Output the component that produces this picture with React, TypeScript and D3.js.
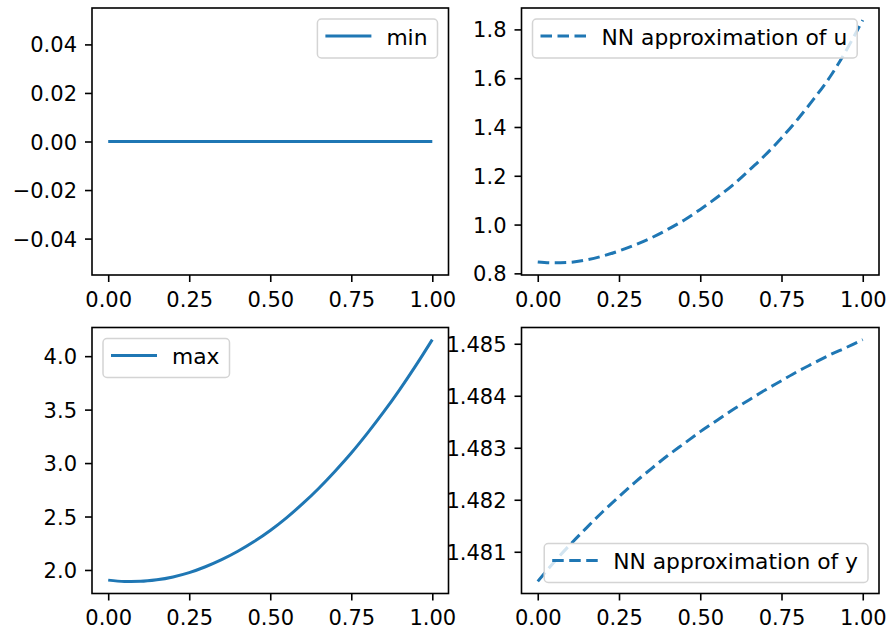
import React, { useEffect, useRef } from "react";
import * as d3 from "d3";

// sample points along x
const xValues = [0, 0.05, 0.1, 0.15, 0.2, 0.25, 0.3, 0.35, 0.4, 0.45, 0.5, 0.55, 0.6, 0.65, 0.7, 0.75, 0.8, 0.85, 0.9, 0.95, 1.0];

const minValues = [0, 0, 0, 0, 0, 0, 0, 0, 0, 0, 0, 0, 0, 0, 0, 0, 0, 0, 0, 0, 0];
const uValues = [0.847, 0.843, 0.845, 0.855, 0.871, 0.892, 0.917, 0.946, 0.98, 1.018, 1.062, 1.11, 1.162, 1.222, 1.285, 1.355, 1.432, 1.516, 1.607, 1.716, 1.838];
const maxValues = [1.905, 1.893, 1.894, 1.908, 1.935, 1.975, 2.03, 2.096, 2.175, 2.266, 2.37, 2.488, 2.62, 2.765, 2.924, 3.094, 3.28, 3.478, 3.69, 3.916, 4.155];
const yValues = [1.48043, 1.4808, 1.48114, 1.48146, 1.48177, 1.48206, 1.48234, 1.4826, 1.48285, 1.48308, 1.48331, 1.48352, 1.48373, 1.48392, 1.48411, 1.48429, 1.48447, 1.48463, 1.48479, 1.48493, 1.48508];

const xTicks = [0, 0.25, 0.5, 0.75, 1.0];
const minTicks = [-0.04, -0.02, 0, 0.02, 0.04];
const uTicks = [0.8, 1.0, 1.2, 1.4, 1.6, 1.8];
const maxTicks = [2.0, 2.5, 3.0, 3.5, 4.0];
const yTicks = [1.481, 1.482, 1.483, 1.484, 1.485];

const labels = ["min", "NN approximation of u", "max", "NN approximation of y"];

const BLUE = "#1f77b4";
const FONT = "DejaVu Sans, sans-serif";
const FS = 21;
const LEGEND_FS = 21.8;

const App = () => {
  const ref = useRef(null);

  useEffect(() => {
    const svg = d3.select(ref.current);
    svg.selectAll("*").remove();

    const panels = [
      { values: minValues, ticks: minTicks, fmt: d3.format(".2f"), label: labels[0], dashed: false, loc: "upper right", box: [92, 448.5, 8, 275] },
      { values: uValues, ticks: uTicks, fmt: d3.format(".1f"), label: labels[1], dashed: true, loc: "upper left", box: [521.5, 879, 8, 275] },
      { values: maxValues, ticks: maxTicks, fmt: d3.format(".1f"), label: labels[2], dashed: false, loc: "upper left", box: [92, 448.5, 327.5, 593.5] },
      { values: yValues, ticks: yTicks, fmt: d3.format(".3f"), label: labels[3], dashed: true, loc: "lower right", box: [521.5, 879, 327.5, 593.5] },
    ];

    panels.forEach((p, i) => {
      const [left, right, top, bottom] = p.box;
      const x = d3.scaleLinear().domain([-0.05, 1.05]).range([left, right]);

      let [lo, hi] = d3.extent(p.values);
      if (lo === hi) {
        lo = lo - 0.05;
        hi = hi + 0.05;
      }
      const pad = (hi - lo) * 0.05;
      const y = d3.scaleLinear().domain([lo - pad, hi + pad]).range([bottom, top]);

      const g = svg.append("g");

      g.append("clipPath")
        .attr("id", "clip" + i)
        .append("rect")
        .attr("x", left)
        .attr("y", top)
        .attr("width", right - left)
        .attr("height", bottom - top);

      const line = d3
        .line()
        .x((d) => x(d[0]))
        .y((d) => y(d[1]))
        .curve(d3.curveMonotoneX);

      g.append("path")
        .datum(xValues.map((v, j) => [v, p.values[j]]))
        .attr("d", line)
        .attr("clip-path", `url(#clip${i})`)
        .attr("fill", "none")
        .attr("stroke", BLUE)
        .attr("stroke-width", 3)
        .attr("stroke-dasharray", p.dashed ? "11.5,5.5" : null);

      // axes
      const yAxis = g
        .append("g")
        .attr("transform", `translate(${left},0)`)
        .call(d3.axisLeft(y).tickValues(p.ticks).tickSize(7).tickPadding(8).tickFormat(p.fmt));
      const xAxis = g
        .append("g")
        .attr("transform", `translate(0,${bottom})`)
        .call(d3.axisBottom(x).tickValues(xTicks).tickSize(7).tickPadding(9.6).tickFormat(d3.format(".2f")));

      [yAxis, xAxis].forEach((a) => {
        a.select(".domain").remove();
        a.attr("font-family", FONT).attr("font-size", FS).attr("color", "#000");
        a.selectAll("line").attr("stroke-width", 1.6);
      });
      yAxis.selectAll("text").attr("dy", "0.36em");

      g.append("rect")
        .attr("x", left)
        .attr("y", top)
        .attr("width", right - left)
        .attr("height", bottom - top)
        .attr("fill", "none")
        .attr("stroke", "#000")
        .attr("stroke-width", 1.6);

      // legend
      const lg = g.append("g");
      const frame = lg
        .append("rect")
        .attr("rx", 4)
        .attr("height", 39)
        .attr("fill", "#fff")
        .attr("fill-opacity", 0.8)
        .attr("stroke", "#d4d4d4")
        .attr("stroke-width", 1.5);
      lg.append("line")
        .attr("x1", 8)
        .attr("x2", 54)
        .attr("y1", 17)
        .attr("y2", 17)
        .attr("stroke", BLUE)
        .attr("stroke-width", 3)
        .attr("stroke-dasharray", p.dashed ? "11.5,5.5" : null);
      const txt = lg
        .append("text")
        .attr("x", 69)
        .attr("y", 25.5)
        .attr("font-family", FONT)
        .attr("font-size", LEGEND_FS)
        .attr("fill", "#000")
        .text(p.label);
      const w = 69 + txt.node().getComputedTextLength() + 10;
      frame.attr("width", w);

      const lx = p.loc === "upper left" ? left + 11 : right - 11 - w;
      const ly = p.loc === "lower right" ? bottom - 11 - 39 : top + 11;
      lg.attr("transform", `translate(${lx},${ly})`);
    });
  }, []);

  return (
    <svg
      ref={ref}
      width={890}
      height={637}
      style={{ position: "absolute", left: 0, top: 0, background: "#fff" }}
    ></svg>
  );
};

export default App;
